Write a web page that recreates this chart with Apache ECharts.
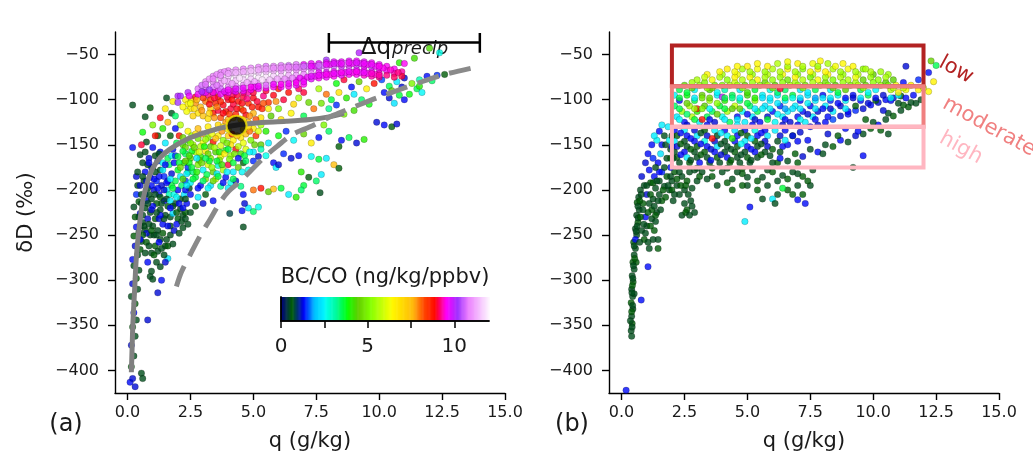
<!DOCTYPE html>
<html>
<head>
<meta charset="utf-8">
<script src="https://cdn.jsdelivr.net/npm/echarts@6/dist/echarts.min.js"></script>
<style>
  html, body { margin: 0; padding: 0; background: #fff; }
  #chart { width: 1033px; height: 458px; }
</style>
</head>
<body>
<div id="chart"></div>
<script>
// ---- Panel (a): q (g/kg), deltaD (permil), BC/CO (ng/kg/ppbv) ----
const aBranch = [
  [0.1,-413,1.3],[0.3,-418,1.2],[0.2,-409,1.2],[0.55,-403,0.5],[0.6,-409,0.5],[0.15,-396,0.6],[0.25,-384,0.5],
  [0.15,-372,1.2],[0.3,-362,0.5],[0.2,-352,0.6],[0.35,-344,0.5],[0.8,-344,1.2],[0.25,-336,1.3],[0.3,-326,0.6],
  [0.15,-318,0.5],[0.4,-310,0.5],[1.2,-314,1.2],[0.2,-304,1.2],[0.35,-298,0.6],[0.9,-296,0.5],[1.0,-299,0.5],
  [1.35,-300,1.3],[0.45,-289,0.5],[0.25,-284,0.5],[0.2,-277,1.3],[0.4,-272,0.5],[0.5,-266,0.6],[0.3,-262,1.2],
  [1.6,-276,2.3],[0.55,-257,0.5],[0.25,-251,0.6],[0.45,-247,0.5],[0.35,-241,1.3],[0.6,-236,0.5],[0.7,-244,0.5],
  [0.3,-230,0.6],[0.5,-226,1.2],[0.25,-219,0.5],[0.45,-213,0.6],[0.35,-205,1.4],[0.4,-195,0.5],[0.35,-185,1.2]
];
const aLowLeft = [
  [0.6,-228,0.5],[0.7,-220,0.5],[0.8,-232,1.2],[0.9,-225,0.5],[1.0,-240,0.5],[1.1,-232,0.6],[1.2,-245,0.5],
  [0.9,-250,0.5],[1.3,-255,0.5],[1.1,-262,0.6],[1.4,-238,1.3],[1.5,-228,0.5],[1.3,-222,0.5],[1.6,-218,0.6],
  [1.7,-230,0.5],[1.55,-255,0.5],[1.8,-226,2.2],[2.0,-232,0.6],[2.1,-221,0.5],[2.2,-228,0.5],[1.9,-215,0.5],
  [1.2,-268,0.5],[1.5,-280,1.2],[0.75,-212,1.3],[0.95,-210,0.5],[1.05,-200,1.2],[0.8,-198,0.5],[0.65,-190,0.5],
  [0.7,-180,1.3],[0.9,-186,1.3],[1.0,-175,0.6],[1.15,-190,1.4],[1.25,-205,1.3],[1.35,-195,1.2],[1.45,-185,1.4],
  [1.3,-178,0.5],[1.55,-200,2.4],[1.65,-205,3.0],[1.75,-195,3.6],[1.85,-205,2.6],[1.6,-190,1.3],[1.75,-182,1.2],
  [1.9,-190,3.5],[2.0,-200,1.3],[2.1,-210,0.5],[2.25,-205,2.3],[1.45,-212,1.3],[1.35,-215,0.5],[1.15,-215,0.6],
  [1.0,-218,1.3],[0.55,-205,0.5],[0.6,-170,0.5],[0.85,-165,1.2],[1.2,-168,1.3],[1.4,-170,2.5],[1.65,-172,3.4],
  [1.85,-170,1.3],[2.0,-178,3.7],[2.1,-185,2.4],[2.3,-190,1.5],[2.4,-180,3.5],[2.25,-170,4.0],[2.45,-198,0.5],
  [2.35,-215,1.3],[2.2,-242,0.5],[1.05,-250,0.5],[1.4,-248,0.6],[0.95,-270,0.5],[1.25,-232,1.2],[1.7,-240,0.5],
  [1.95,-238,1.3],[0.75,-258,0.6],[1.5,-262,0.5],[1.3,-285,0.5],
  [0.65,-240,0.5],[0.75,-248,1.2],[0.85,-238,0.5],[0.95,-245,0.6],[1.15,-250,0.5],[1.25,-258,1.3],[1.35,-265,0.5],
  [1.05,-272,0.6],[0.85,-262,0.5],[0.7,-270,0.5],[0.8,-280,1.3],[1.15,-280,0.5],[0.95,-290,0.5],[1.45,-272,0.5],
  [1.6,-262,0.6],[1.7,-250,0.5],[1.85,-245,1.2],[2.05,-248,0.5],[1.8,-260,0.5],[1.6,-240,1.3],[1.45,-232,0.5],
  [1.3,-228,1.3],[1.15,-225,0.5],[0.95,-222,1.2],[0.8,-215,0.5],[0.7,-205,1.3],[0.85,-205,0.5],[0.95,-195,1.3],
  [1.1,-205,0.5],[1.2,-198,1.3],[1.3,-208,0.6],[1.45,-200,1.2],[1.55,-210,0.5],[1.7,-212,2.4],[1.8,-218,0.5],
  [1.95,-225,0.6],[2.05,-215,1.3],[2.15,-235,0.5],[2.3,-225,0.6],[2.3,-232,0.5],[1.7,-220,1.3],[1.55,-192,1.3],
  [1.7,-188,2.4],[1.8,-198,3.6],[1.95,-208,2.5],[2.15,-195,3.4],[2.3,-200,1.3],[1.25,-185,1.3],[1.1,-180,0.5],
  [0.95,-175,1.3],[0.8,-172,0.5],[0.75,-190,1.2],[1.05,-188,1.3],[1.4,-178,2.4],[1.5,-172,1.3],[1.6,-165,3.5],
  [1.75,-162,2.5],[1.9,-162,1.4],[2.05,-170,3.6],[1.3,-158,1.3],[1.1,-162,0.5],[0.7,-158,0.5],[0.6,-185,0.5],
  [0.5,-195,1.2],[0.55,-215,0.5],[0.5,-240,0.5],[0.6,-250,0.6],[0.5,-255,1.3],[0.45,-230,0.5]
];
const aLeftScatter = [
  [0.2,-106,0.5],[0.7,-119,0.5],[0.9,-109,0.6],[1.3,-120,8.9],[1.0,-128,5.0],[1.55,-98,0.5],[1.8,-102,6.5],
  [2.0,-96,10.0],[0.2,-153,1.3],[0.6,-136,3.8],[0.75,-147,0.5],[0.5,-161,0.5],[1.0,-153,1.3],[1.2,-140,0.6],
  [1.4,-132,4.0],[1.6,-125,7.4],[1.75,-115,0.5],[1.5,-110,6.6],[1.9,-118,3.4],[2.1,-128,5.6],[1.25,-160,0.5],
  [1.5,-148,2.4],[0.85,-170,1.3],[0.4,-180,0.5],[0.55,-150,9.0],[1.1,-140,8.8],[1.7,-140,0.6],[1.9,-132,1.3]
];
const aMiddle = [
  [2.2,-150,4.2],[2.4,-145,3.8],[2.6,-150,5.5],[2.8,-143,4.8],[3.0,-148,6.3],[3.2,-142,5.0],[3.4,-147,8.8],
  [3.6,-140,6.5],[3.8,-145,5.2],[4.0,-140,7.2],[4.2,-145,6.4],[4.5,-142,6.8],[4.7,-138,7.5],[4.9,-145,5.0],
  [5.1,-140,8.5],[2.3,-160,3.4],[2.5,-165,4.5],[2.7,-158,5.4],[2.9,-163,4.0],[3.1,-157,6.6],[3.3,-165,5.0],
  [3.5,-158,4.3],[3.7,-163,6.2],[3.9,-156,3.9],[4.1,-162,5.3],[4.3,-155,8.9],[4.5,-160,4.2],[4.7,-155,6.0],
  [2.0,-163,3.6],[2.1,-175,4.6],[2.4,-175,1.4],[2.6,-180,3.3],[2.8,-172,5.0],[3.0,-178,2.5],[3.2,-172,6.0],
  [3.4,-180,4.5],[3.6,-173,2.8],[3.8,-178,5.5],[4.0,-172,9.0],[4.2,-180,2.4],[4.4,-175,4.5],[4.6,-170,0.6],
  [4.8,-178,2.6],[5.0,-168,1.4],[2.2,-188,4.3],[2.5,-192,2.5],[2.7,-186,3.6],[2.9,-195,1.3],[3.1,-188,4.8],
  [3.3,-195,2.3],[3.5,-188,5.8],[3.7,-196,3.2],[3.9,-186,1.3],[4.1,-192,2.6],[1.8,-155,1.3],[1.95,-148,3.5],
  [2.05,-140,8.8],[2.4,-135,6.4],[2.8,-132,7.5],[3.2,-130,6.6],[3.6,-128,7.0],[3.9,-125,7.8],[4.8,-125,7.5],
  [5.0,-132,6.6],[5.3,-128,5.5],[5.5,-135,4.0],[5.6,-148,2.4],[5.3,-155,3.0],[5.5,-162,2.6],[4.3,-190,1.2],
  [4.5,-196,3.3],[4.6,-205,1.3],[4.65,-215,1.2],[4.55,-223,1.3],[2.3,-153,4.6],[2.55,-157,3.7],[2.9,-152,5.6],
  [3.3,-152,4.4],[3.7,-151,5.9],[4.1,-150,6.8],[2.45,-170,3.8],[2.85,-167,4.3],[3.25,-168,3.6],[3.65,-167,4.9],
  [4.05,-166,5.0],[2.35,-182,2.4],[2.75,-180,4.0],[3.15,-183,3.5],[3.55,-182,2.4],[2.55,-140,5.3],
  [2.2,-142,4.6],[2.5,-148,5.0],[2.7,-138,6.8],[2.95,-138,7.6],[3.1,-144,5.4],[3.35,-138,6.2],[3.5,-143,7.4],
  [3.75,-135,7.8],[3.95,-148,4.8],[4.15,-138,8.6],[4.35,-140,7.6],[4.6,-148,6.2],[4.85,-135,8.0],[5.05,-150,4.5],
  [5.2,-135,6.0],[2.2,-157,3.6],[2.45,-162,4.2],[2.65,-153,4.6],[2.85,-158,6.0],[3.05,-152,3.8],[3.2,-160,4.6],
  [3.45,-153,5.4],[3.65,-158,4.0],[3.85,-160,6.6],[4.0,-155,3.5],[4.25,-160,4.8],[4.4,-152,5.6],[4.65,-162,3.6],
  [4.85,-158,2.5],[2.3,-168,4.4],[2.55,-175,3.6],[2.75,-165,2.4],[2.95,-170,4.6],[3.1,-165,3.5],[3.35,-175,5.2],
  [3.55,-168,3.6],[3.75,-172,4.2],[3.95,-180,2.4],[4.2,-170,3.6],[4.4,-165,1.3],[4.55,-180,2.5],[4.7,-168,3.4],
  [2.35,-195,2.4],[2.6,-188,3.6],[2.8,-198,1.3],[3.0,-190,3.4],[3.2,-198,2.5],[3.4,-190,4.6],[3.6,-185,3.6],
  [3.8,-192,1.3],[4.0,-198,2.4],[4.2,-188,3.5],[2.5,-205,1.3],[2.8,-208,2.4],[3.1,-205,0.6],[3.4,-212,1.3],
  [2.3,-210,0.5],[2.2,-220,1.3],[2.5,-225,0.5],[2.7,-218,0.6],[3.0,-215,1.2],[2.4,-238,0.5],
  [3.8,-130,6.8],[4.0,-133,6.4],[4.6,-133,6.6],[4.8,-130,7.0],[4.2,-120,7.2],[4.5,-122,6.8]
];
const aRedZone = [
  [2.3,-100,6.5],[2.4,-105,6.4],[2.5,-110,6.6],[2.35,-113,6.3],[2.55,-100,7.0],[2.1,-96,10.1],[2.4,-92,10.0],
  [2.7,-97,9.0],[2.0,-103,10.2],[2.7,-104,7.8],[2.9,-108,7.5],[3.1,-102,8.0],[3.3,-110,7.2],[3.5,-104,8.6],
  [2.8,-115,6.8],[3.0,-118,7.4],[3.2,-121,6.9],[3.4,-115,8.8],[3.6,-112,9.0],[3.8,-106,8.9],[4.0,-100,8.9],
  [4.2,-95,9.1],[3.9,-93,9.3],[3.6,-97,8.7],[4.4,-102,8.8],[4.6,-97,9.0],[4.8,-104,8.5],[4.1,-110,9.0],
  [4.3,-116,8.6],[4.5,-110,7.8],[4.7,-117,8.9],[3.7,-120,8.2],[4.0,-122,7.6],[5.0,-98,8.9],[5.2,-108,8.8],
  [5.4,-96,9.2],[5.0,-115,7.6],[5.3,-120,6.8],[5.6,-103,8.5],[5.8,-95,8.9],[6.0,-110,5.0],[6.2,-100,9.0],
  [6.4,-92,8.8],[6.6,-105,7.0],[6.8,-98,5.5],[6.5,-115,6.4],[7.0,-92,9.0],[7.2,-103,4.6],[7.4,-110,8.0],
  [7.0,-118,3.5],[5.7,-118,4.4],[6.1,-122,6.8],[3.2,-95,9.2],[3.4,-92,8.9],[4.8,-92,9.3],[5.5,-90,9.0],
  [6.0,-88,8.7],[6.8,-88,9.1],[3.9,-113,8.8],[4.2,-105,9.0],[4.6,-122,7.3],[3.3,-100,8.4],[2.6,-118,7.1],
  [3.0,-98,8.4],[3.25,-105,8.9],[3.45,-98,9.0],[3.7,-102,8.6],[3.95,-97,9.1],[4.15,-100,8.8],[4.35,-95,9.0],
  [4.55,-104,8.9],[4.75,-99,9.2],[4.95,-108,8.7],[5.15,-102,9.0],[5.35,-110,8.6],[3.55,-108,8.0],[3.8,-115,8.9],
  [4.05,-116,8.4],[4.35,-110,8.9],[4.6,-112,8.6],[4.85,-118,7.8],[5.1,-122,8.2],[3.45,-120,7.8],[3.25,-115,7.0],
  [2.95,-112,7.8],[2.65,-110,6.9],[2.5,-104,6.2],[2.75,-100,7.6],[2.2,-108,6.4],[2.45,-96,9.6],[4.2,-90,9.4],
  [4.6,-92,9.2],[5.0,-92,9.0],[3.6,-90,9.6],[3.0,-92,9.5],[5.4,-104,8.2],[5.6,-110,6.6],[5.9,-102,7.8]
];
const aUpperBand = [
  [2.8,-88,10.7],[2.8,-94,9.6],[3.1,-80,10.8],[3.1,-86,10.6],[3.1,-92,9.7],
  [3.4,-74,10.8],[3.4,-80,10.9],[3.4,-86,10.7],[3.4,-92,9.6],
  [3.7,-70,10.8],[3.7,-76,11.1],[3.7,-82,10.9],[3.7,-88,10.6],[3.7,-94,9.6],
  [4.0,-68,10.8],[4.0,-74,11.4],[4.0,-80,11.2],[4.0,-86,10.8],[4.0,-92,9.6],
  [4.3,-67,10.9],[4.3,-73,11.6],[4.3,-79,11.4],[4.3,-85,10.8],[4.3,-91,9.7],
  [4.6,-66,10.8],[4.6,-72,11.8],[4.6,-78,11.6],[4.6,-84,10.9],[4.6,-90,9.6],
  [4.9,-65,10.9],[4.9,-71,11.7],[4.9,-77,11.5],[4.9,-83,10.8],[4.9,-89,9.5],
  [5.2,-64,10.8],[5.2,-70,11.5],[5.2,-76,11.8],[5.2,-82,10.9],[5.2,-88,9.6],
  [5.5,-63,10.7],[5.5,-69,11.4],[5.5,-75,11.8],[5.5,-81,11.0],[5.5,-87,9.6],
  [5.8,-63,10.8],[5.8,-68,11.2],[5.8,-74,11.6],[5.8,-80,10.9],[5.8,-86,9.5],
  [6.1,-62,10.7],[6.1,-68,11.0],[6.1,-74,11.4],[6.1,-80,10.8],[6.1,-86,9.6],
  [6.4,-62,10.6],[6.4,-67,11.1],[6.4,-73,11.2],[6.4,-79,10.7],[6.4,-85,9.5],
  [6.7,-61,10.7],[6.7,-67,10.9],[6.7,-73,11.0],[6.7,-79,9.7],[6.7,-84,9.6],
  [7.0,-61,9.6],[7.0,-66,10.8],[7.0,-72,10.8],[7.0,-78,9.6],[7.0,-83,9.5],
  [7.3,-60,9.6],[7.3,-66,10.7],[7.3,-71,10.9],[7.3,-77,9.7],
  [7.6,-60,9.7],[7.6,-65,10.6],[7.6,-70,9.6],[7.6,-76,9.5],
  [7.9,-59,9.6],[7.9,-64,10.7],[7.9,-70,9.7],[7.9,-75,9.6],
  [8.2,-58,9.7],[8.2,-63,10.6],[8.2,-69,9.6],[8.2,-74,9.5],
  [8.5,-58,9.6],[8.5,-63,9.7],[8.5,-68,10.6],[8.5,-73,9.6],
  [8.8,-57,9.7],[8.8,-62,9.6],[8.8,-67,10.7],[8.8,-72,9.5],
  [9.1,-57,9.6],[9.1,-62,10.6],[9.1,-67,9.7],[9.1,-72,9.5],
  [9.4,-58,9.7],[9.4,-63,9.6],[9.4,-68,9.6],[9.4,-73,9.4],
  [9.7,-59,9.6],[9.7,-64,10.5],[9.7,-69,9.6],[9.7,-74,9.3],
  [10.0,-61,9.6],[10.0,-66,9.6],[10.0,-71,9.4],[10.0,-75,9.2],
  [10.3,-63,9.5],[10.3,-68,9.5],[10.3,-73,9.2],[10.6,-66,9.5],[10.6,-71,9.3],[10.6,-75,9.1],
  [10.9,-69,9.3],[10.9,-74,9.0],
  [3.25,-77,10.9],[3.25,-89,10.2],[3.55,-72,10.8],[3.55,-84,10.7],[3.85,-69,10.8],[3.85,-79,11.2],[3.85,-91,9.7],
  [4.15,-70,11.2],[4.15,-82,11.0],[4.45,-70,11.4],[4.45,-76,11.8],[4.45,-88,10.7],[4.75,-69,11.5],[4.75,-81,11.2],
  [5.05,-68,11.6],[5.05,-80,11.2],[5.05,-86,9.6],[5.35,-66,11.2],[5.35,-78,11.8],[5.65,-66,11.3],[5.65,-78,11.5],
  [5.95,-65,11.1],[5.95,-77,11.2],[6.25,-64,11.0],[6.25,-77,10.9],[6.55,-64,10.8],[6.55,-76,10.8],[6.85,-64,10.7],
  [6.85,-76,9.6],[7.15,-63,10.6],[7.15,-75,9.6],[7.45,-63,9.7],[7.45,-74,9.6],[7.75,-62,10.6],[7.75,-73,9.6],
  [8.05,-61,9.6],[8.05,-72,9.5],[8.35,-60,9.7],[8.35,-71,9.6],[8.65,-60,10.7],[8.65,-70,9.6],[8.95,-60,9.6],
  [8.95,-70,9.5],[9.25,-60,9.7],[9.25,-70,9.6],[9.55,-61,9.6],[9.55,-71,9.5],[9.85,-63,9.6],[9.85,-72,9.4],
  [10.15,-65,9.5],[10.45,-67,9.4],[10.75,-70,9.2],[2.95,-84,10.6],[2.95,-91,10.1],
  [3.1,-83,10.7],[3.4,-77,10.8],[3.7,-73,10.9],[4.0,-71,11.1],[4.3,-70,11.3],[4.6,-69,11.2],[4.9,-68,11.4],
  [5.2,-67,11.2],[5.5,-66,11.0],[5.8,-65,10.9],[6.1,-65,10.8],[6.4,-64,10.8],[6.7,-64,10.7],[7.0,-63,10.6],
  [7.3,-63,9.6],[7.6,-62,10.6],[7.9,-61,9.6],[8.2,-60,9.7],[8.5,-60,9.6],[8.8,-59,9.6],[9.1,-59,9.7],
  [9.4,-60,9.6],[9.7,-61,9.6],[10.0,-63,9.5],
  [4.0,-89,9.6],[4.3,-88,9.7],[4.6,-87,9.6],[4.9,-86,9.5],[5.2,-85,9.6],[5.5,-84,10.7],[5.8,-83,9.6],
  [6.1,-83,9.5],[6.4,-82,9.6],[6.7,-81,9.5],[7.0,-80,9.6],[7.3,-74,9.7],[7.6,-73,9.6],[7.9,-72,9.5],
  [8.2,-71,9.6],[8.5,-70,9.5],[8.8,-69,9.6],[9.1,-69,9.5],[9.4,-70,9.6],[9.7,-71,9.4],[10.0,-73,9.3]
];
const aRightScatter = [
  [7.9,-56,10.2],[9.2,-48,10.0],[10.8,-59,4.0],[11.4,-54,4.2],[12.0,-43,4.3],[12.4,-48,2.6],[11.0,-60,9.5],
  [8.3,-82,3.8],[8.6,-78,9.0],[8.9,-86,1.3],[9.2,-80,4.5],[9.5,-88,6.5],[9.8,-82,8.8],[10.1,-78,1.5],
  [10.4,-85,3.5],[10.7,-80,2.4],[11.0,-76,1.2],[11.3,-82,5.0],[11.6,-78,3.0],[11.9,-74,1.3],[12.3,-73,1.4],
  [12.6,-72,0.6],[7.6,-88,5.5],[7.9,-94,8.0],[8.1,-100,3.6],[8.4,-92,6.8],[8.7,-98,4.0],[9.0,-94,2.4],
  [9.3,-100,3.4],[7.7,-104,4.8],[8.0,-110,3.2],[8.3,-106,1.4],[10.2,-92,1.3],[10.4,-98,1.2],[10.6,-104,2.3],
  [10.8,-95,3.6],[11.0,-100,1.3],[10.5,-90,4.4],[11.5,-88,3.5],[11.7,-92,2.5],[11.6,-85,4.0],[9.6,-105,3.8],
  [9.0,-112,4.2],[8.6,-116,5.0],[9.9,-125,1.2],[10.2,-128,1.3],[10.5,-130,0.6],[10.7,-127,1.2],
  [8.5,-145,1.3],[8.8,-142,3.5],[9.1,-148,1.2],[9.4,-144,4.0],[8.4,-152,0.6],[7.3,-163,2.5],[7.6,-166,3.6],
  [7.9,-165,2.4],[8.2,-172,7.5],[8.4,-176,0.6],[6.9,-180,4.0],[7.2,-186,0.6],[7.5,-190,3.4],[7.7,-183,2.4],
  [7.0,-195,3.6],[7.65,-203,0.5],[5.8,-170,1.3],[5.9,-175,2.4],[6.0,-172,1.2],[6.2,-160,1.4],[6.5,-165,1.2],
  [6.8,-162,1.3],[5.0,-200,8.0],[5.3,-198,8.8],[5.6,-202,4.4],[5.8,-199,7.5],[4.8,-220,2.4],[5.0,-224,3.4],
  [5.2,-219,2.6],[6.1,-198,3.6],[6.4,-205,2.4],[6.7,-208,4.0],[6.9,-200,3.4],[4.6,-241,0.5],[4.06,-226,0.8],
  [5.0,-158,2.4],[5.2,-163,1.2],[5.3,-150,4.4],[6.0,-140,3.8],[6.3,-135,1.4],[6.6,-145,2.5],[7.0,-138,4.5],
  [7.3,-148,6.6],[7.6,-142,1.3],[8.0,-135,3.4],[7.8,-128,5.0],[10.9,-86,1.2],[11.2,-94,3.8],[12.1,-79,3.4]
];

// ---- Panel (b): same axes ----
const bBranch = [
  [0.4,-362,0.5],[0.38,-356,0.5],[0.42,-348,0.6],[0.4,-340,0.5],[0.45,-332,0.5],[0.38,-325,0.6],[0.44,-318,0.5],
  [0.4,-310,0.5],[0.46,-302,0.6],[0.42,-295,0.5],[0.5,-288,0.5],[0.45,-280,0.6],[0.78,-322,1.3],[1.05,-285,1.3],
  [0.5,-272,0.5],[0.55,-265,0.5],[0.48,-258,0.6],[0.6,-250,0.5],[0.55,-243,0.5],[0.65,-236,0.6],[0.6,-228,0.5],
  [0.7,-222,0.5],[0.62,-214,0.6],[0.68,-208,0.5],[0.75,-200,0.5],[0.18,-422,1.3],[0.55,-255,1.3],[0.8,-245,0.5],
  [0.9,-255,0.6],[1.0,-240,0.5],[1.1,-265,0.5],[0.95,-230,1.3],[1.2,-232,0.5],[1.3,-245,0.6],[1.4,-225,0.5],
  [1.1,-215,0.5],[0.85,-215,0.6],[1.0,-205,1.2],[1.25,-210,0.5],[1.45,-255,0.5],[1.45,-265,0.6],[1.2,-222,0.6],
  [0.9,-195,0.5],[1.15,-192,0.6],[1.35,-198,0.5],[1.5,-205,0.5],[1.6,-212,0.6],[1.3,-185,1.3],[1.5,-190,0.5],
  [1.7,-196,0.5],[1.8,-185,0.6],[1.6,-180,1.4],[1.9,-200,0.5],[2.0,-190,0.5],[2.1,-180,0.6],[2.2,-195,0.5],
  [1.45,-170,1.3],[1.55,-160,2.3],[1.6,-150,1.3],[1.4,-145,2.5],[1.7,-140,0.5],[1.5,-135,1.3],[1.8,-165,0.5],
  [1.25,-165,1.4],[1.1,-178,1.3],[0.8,-185,1.2],[1.85,-130,2.4],[2.0,-200,0.6],[2.3,-205,0.5],[2.5,-200,0.5],
  [2.6,-190,0.6],[2.8,-198,0.5],[2.4,-185,0.5],[2.7,-180,0.5],[2.5,-215,0.5],[2.6,-222,0.6],[2.8,-218,0.5],
  [2.4,-228,0.5],[2.9,-225,0.5],[0.35,-345,0.5],[0.5,-315,0.5],[0.58,-280,0.6],[0.72,-258,0.5],[0.88,-238,0.5],
  [1.05,-225,0.6],[1.35,-235,0.5],[1.55,-222,0.5],[1.75,-208,0.6],[2.05,-212,0.5],[2.35,-195,0.6],[1.95,-175,1.3],
  [0.42,-352,0.5],[0.4,-335,0.6],[0.44,-328,0.5],[0.41,-314,0.5],[0.43,-306,0.6],[0.45,-298,0.5],[0.47,-284,0.5],
  [0.52,-276,0.6],[0.5,-262,0.5],[0.58,-246,0.5],[0.62,-240,0.5],[0.66,-231,0.5],[0.65,-218,0.5],[0.72,-212,0.6],
  [0.78,-205,0.5],[0.85,-222,0.5],[0.75,-230,0.6],[0.95,-248,0.5],[1.15,-240,0.6],[1.25,-255,0.5],[1.05,-258,0.5],
  [1.35,-228,0.6],[1.3,-218,0.5],[1.15,-205,0.6],[1.45,-212,0.5],[1.0,-195,0.5],[1.25,-192,0.6],[1.4,-190,0.5],
  [1.65,-200,0.6],[1.85,-195,0.5],[2.1,-205,0.5],[2.2,-188,0.6],[1.95,-185,0.5],[1.7,-175,0.5],[1.5,-180,1.3],
  [1.35,-175,0.5],[2.3,-180,0.5],[2.55,-195,0.6],[2.65,-205,0.5],[2.75,-212,0.5],[2.55,-225,0.6],[2.7,-228,0.5],
  [1.2,-150,1.3],[1.3,-140,2.4],[1.05,-160,1.3],[0.95,-170,1.2],[1.6,-128,2.4],[1.75,-150,0.5],[1.9,-145,2.5],
  [1.95,-155,0.5],[1.95,-165,0.6]
];
const bBelow = [
  [3.2,-180,0.5],[3.6,-185,0.6],[4.0,-180,0.5],[4.4,-188,0.5],[4.8,-182,0.6],[5.2,-178,0.5],[5.6,-186,0.5],
  [6.0,-180,0.6],[6.4,-184,0.5],[6.8,-180,0.5],[7.2,-185,0.6],[7.6,-178,0.5],[5.0,-195,0.5],[5.4,-200,0.6],
  [5.8,-195,0.5],[6.2,-205,0.5],[6.6,-200,0.6],[7.0,-195,0.5],[7.2,-205,0.6],[6.0,-210,2.4],[6.4,-198,3.6],
  [6.1,-215,0.5],[5.1,-219,1.3],[4.9,-235,2.4],[7.0,-211,1.3],[4.4,-200,0.6],[3.8,-195,0.5],[7.5,-195,0.5],
  [3.0,-190,0.5],[3.4,-188,0.5],[4.2,-192,0.6],[4.6,-180,0.5],[5.0,-186,0.5],[5.4,-190,0.6],[5.8,-178,0.5],
  [6.2,-190,0.5],[6.6,-188,0.6],[7.0,-182,0.5],[7.4,-190,0.6],[5.6,-210,0.5],[6.8,-205,0.6],[7.3,-215,1.3],
  [3.1,-185,0.6],[2.9,-178,0.5],[4.8,-195,0.6]
];
const bHigh = [
  [2.1,-134,1.3],[2.5,-134,2.4],[2.9,-134,1.2],[3.3,-134,0.6],[3.7,-134,2.5],[4.1,-134,1.3],[4.5,-134,2.3],
  [4.9,-134,1.2],[5.3,-134,2.6],[5.7,-134,1.3],[6.1,-134,2.4],[6.5,-134,1.3],
  [2.2,-140,0.6],[2.6,-140,1.3],[3.0,-140,2.4],[3.4,-140,1.2],[3.8,-140,0.5],[4.2,-140,2.5],[4.6,-140,1.3],
  [5.0,-140,0.6],[5.4,-140,1.3],[5.8,-140,2.3],[6.3,-140,1.2],[6.8,-140,0.6],
  [2.1,-146,2.4],[2.5,-146,0.5],[2.9,-146,1.3],[3.3,-146,2.6],[3.7,-146,1.2],[4.1,-146,0.5],[4.5,-146,1.3],
  [4.9,-146,2.4],[5.3,-146,0.6],[5.7,-146,1.2],[6.2,-146,0.5],[7.0,-146,1.3],
  [2.2,-152,1.2],[2.6,-152,0.5],[3.0,-152,0.6],[3.4,-152,1.3],[3.8,-152,2.3],[4.2,-152,0.5],[4.6,-152,0.6],
  [5.0,-152,1.3],[5.4,-152,0.5],[5.8,-152,1.2],[6.4,-152,1.3],
  [2.1,-158,0.5],[2.5,-158,1.3],[2.9,-158,0.5],[3.3,-158,0.6],[3.7,-158,1.3],[4.1,-158,0.5],[4.5,-158,0.6],
  [4.9,-158,0.5],[5.3,-158,1.3],[5.7,-158,0.5],
  [2.2,-164,0.6],[2.6,-164,2.4],[3.0,-164,0.5],[3.4,-164,0.5],[3.8,-164,0.6],[4.2,-164,1.3],[4.6,-164,0.5],
  [5.0,-164,0.6],[5.4,-164,0.5],
  [2.3,-170,0.5],[2.7,-170,0.6],[3.1,-170,1.3],[3.5,-170,0.5],[3.9,-170,0.5],[4.3,-170,0.6],[4.7,-170,0.5],
  [5.1,-170,0.5],[3.0,-176,0.5],[3.6,-176,0.6],[4.2,-176,0.5],[4.8,-176,0.6],
  [2.35,-137,1.3],[3.15,-137,0.5],[3.95,-137,2.4],[4.75,-137,0.6],[5.55,-137,1.3],
  [2.35,-149,0.6],[3.15,-149,1.3],[3.95,-149,0.5],[4.75,-149,2.5],[5.55,-149,0.5],
  [2.35,-161,1.3],[3.15,-161,0.6],[3.95,-161,1.2],[4.75,-161,0.5],[5.55,-161,0.6],
  [3.6,-143,8.8],[4.4,-143,4.0],[2.75,-143,1.3],[5.15,-143,2.4],[2.75,-155,0.6],[3.55,-155,1.2],[4.35,-155,0.5],
  [5.15,-155,1.3],[2.75,-167,0.5],[3.55,-167,1.3],[4.35,-167,0.6],[5.15,-167,0.5],
  [2.05,-165,0.5],[2.0,-152,1.3],[2.0,-140,0.5],[6.0,-155,0.6],[6.3,-158,0.5],[6.6,-150,1.3],[5.9,-162,0.5],
  [6.2,-170,0.6]
];
const bHighRight = [
  [6.0,-170,0.5],[6.3,-165,1.3],[6.6,-168,0.5],[6.9,-160,0.6],[7.2,-163,1.2],[7.5,-155,0.5],[7.8,-158,1.3],
  [8.1,-150,0.5],[8.4,-152,0.6],[8.7,-145,1.3],[9.0,-147,0.5],[9.3,-140,1.2],[9.6,-138,0.5],[9.9,-132,0.6],
  [10.2,-128,1.3],[10.5,-122,0.5],[10.8,-118,0.6],[11.1,-112,0.5],[11.4,-108,0.6],[11.7,-104,0.5],[11.9,-100,0.5],
  [10.0,-125,0.5],[10.6,-115,0.5],[11.2,-106,0.6],[11.5,-103,0.5],[9.4,-135,1.3],[8.0,-160,0.5],[7.0,-170,0.6],
  [9.6,-162,1.3],[9.2,-175,0.5],[10.6,-138,0.5],[10.3,-134,0.6],
  [7.5,-130,1.3],[7.8,-128,1.2],[8.1,-125,1.3],[8.4,-122,1.5],[8.7,-118,1.2],[9.0,-116,1.3],[9.3,-112,1.4],
  [9.6,-110,1.2],[9.9,-106,1.3],[10.2,-103,1.2],[10.5,-100,1.3],[10.8,-98,1.2],[11.1,-96,0.6],[6.8,-140,1.3],
  [7.1,-136,1.2],[6.5,-145,2.4],[7.4,-145,1.3],[8.2,-138,1.2],[8.9,-132,1.3],[9.7,-122,0.6],[10.4,-112,1.2],
  [11.0,-104,0.5],[8.6,-140,0.6]
];
const bModerate = [
  [2.3,-89,3.5],[2.9,-89,2.5],[3.5,-89,4.2],[4.1,-89,3.0],[4.7,-89,2.4],[5.3,-89,3.6],[5.9,-89,2.6],[6.5,-89,3.4],
  [7.1,-89,2.4],[7.7,-89,3.5],[8.3,-89,2.5],[8.9,-89,4.4],[9.5,-89,3.4],[10.1,-89,2.5],[10.7,-89,5.6],[11.3,-89,6.2],
  [11.8,-89,6.5],
  [2.1,-95,2.5],[2.6,-95,3.8],[3.2,-95,4.5],[3.8,-95,2.4],[4.4,-95,3.5],[5.0,-95,4.2],[5.6,-95,2.5],[6.2,-95,2.4],
  [6.8,-95,3.6],[7.4,-95,2.3],[8.0,-95,1.3],[8.6,-95,2.5],[9.2,-95,1.3],[9.8,-95,3.5],[10.4,-95,1.2],[11.0,-95,2.4],
  [11.6,-95,1.3],
  [2.3,-101,1.3],[2.9,-101,3.6],[3.5,-101,5.4],[4.1,-101,4.0],[4.7,-101,3.4],[5.3,-101,5.2],[5.9,-101,2.4],
  [6.5,-101,2.5],[7.1,-101,1.3],[7.7,-101,2.4],[8.3,-101,1.4],[8.9,-101,2.5],[9.5,-101,1.3],[10.1,-101,0.6],
  [10.7,-101,1.3],
  [2.1,-107,3.4],[2.7,-107,5.5],[3.3,-107,4.4],[3.9,-107,3.6],[4.5,-107,5.8],[5.1,-107,3.4],[5.7,-107,2.3],
  [6.3,-107,1.4],[6.9,-107,2.4],[7.5,-107,1.3],[8.1,-107,2.4],[8.7,-107,1.2],[9.3,-107,0.6],
  [2.4,-113,5.3],[3.0,-113,4.0],[3.6,-113,3.5],[4.2,-113,5.5],[4.8,-113,2.5],[5.4,-113,3.5],[6.0,-113,1.3],
  [6.6,-113,2.4],[7.2,-113,1.3],[7.8,-113,1.2],[8.4,-113,2.4],[9.0,-113,1.3],
  [2.2,-119,2.4],[2.8,-119,5.6],[3.4,-119,3.5],[4.0,-119,2.6],[4.6,-119,1.3],[5.2,-119,2.4],[5.8,-119,1.2],
  [6.4,-119,2.5],[7.0,-119,1.3],[7.6,-119,2.4],[8.2,-119,1.3],
  [2.5,-125,1.3],[3.1,-125,2.4],[3.7,-125,1.2],[4.3,-125,3.5],[4.9,-125,2.4],[5.5,-125,1.3],[6.1,-125,2.5],
  [6.7,-125,1.2],[7.3,-125,2.4],
  [2.6,-92,3.6],[3.8,-92,2.5],[5.0,-92,4.2],[6.2,-92,3.4],[7.4,-92,2.4],[8.6,-92,3.6],[9.8,-92,2.5],[11.0,-92,6.6],
  [2.6,-104,4.5],[3.8,-104,5.2],[5.0,-104,3.6],[6.2,-104,2.4],[7.4,-104,2.5],[8.6,-104,1.3],[9.8,-104,1.2],
  [2.6,-116,3.4],[3.8,-116,4.4],[5.0,-116,1.3],[6.2,-116,2.4],[7.4,-116,1.2],[3.2,-122,8.8],[4.6,-122,2.4],
  [5.8,-122,3.6],[4.0,-97,10.0],[6.3,-88,9.0],[3.0,-110,8.8],[3.2,-98,4.8],[4.4,-98,3.3],[5.6,-98,2.3],
  [6.8,-98,2.6],[8.0,-98,2.4],[9.2,-98,1.2],[3.2,-110,5.0],[4.4,-110,4.4],[5.6,-110,2.4],[6.8,-110,2.3],
  [8.0,-110,1.3],[12.0,-87,5.8],[12.2,-91,6.4],
  [2.3,-98,3.6],[2.9,-98,2.4],[3.5,-98,4.6],[4.1,-98,3.5],[4.7,-98,2.5],[5.3,-98,4.0],[5.9,-98,2.4],[6.5,-98,3.5],
  [7.1,-98,2.4],[7.7,-98,1.8],[8.3,-98,2.5],[8.9,-98,1.3],[9.5,-98,2.4],[10.1,-98,1.3],[10.7,-98,2.5],[11.3,-98,1.3],
  [2.3,-110,3.5],[2.9,-110,5.4],[3.5,-110,2.5],[4.1,-110,3.6],[4.7,-110,4.5],[5.3,-110,2.4],[5.9,-110,2.5],
  [6.5,-110,1.8],[7.1,-110,2.4],[7.7,-110,2.3],[8.3,-110,1.2],[8.9,-110,2.4],
  [2.3,-122,2.5],[2.9,-122,3.6],[3.5,-122,1.3],[4.1,-122,2.4],[5.3,-122,1.2],[6.5,-122,1.3],[7.1,-122,2.5],
  [7.7,-122,1.3],[2.6,-128,1.2],[3.4,-128,1.3],[4.6,-128,2.4],[5.2,-128,1.3],[6.4,-128,1.2],[7.0,-128,1.3]
];
const bLow = [
  [2.5,-84,4.5],[3.1,-84,5.3],[3.7,-84,4.8],[4.3,-84,5.5],[4.9,-84,4.5],[5.5,-84,5.2],[6.1,-84,4.4],[6.7,-84,5.5],
  [7.3,-84,4.8],[7.9,-84,5.3],[8.5,-84,4.4],[9.1,-84,5.0],[9.7,-84,4.6],[10.3,-84,5.4],[10.9,-84,6.3],[11.5,-84,6.6],
  [3.0,-78,5.5],[3.6,-78,6.3],[4.2,-78,5.2],[4.8,-78,5.6],[5.4,-78,6.4],[6.0,-78,5.3],[6.6,-78,4.8],[7.2,-78,5.6],
  [7.8,-78,6.3],[8.4,-78,5.1],[9.0,-78,5.6],[9.6,-78,4.5],[10.2,-78,5.3],[10.8,-78,4.4],
  [3.4,-72,6.5],[4.0,-72,5.4],[4.6,-72,6.2],[5.2,-72,5.3],[5.8,-72,5.6],[6.4,-72,6.3],[7.0,-72,5.2],[7.6,-72,5.5],
  [8.2,-72,6.4],[8.8,-72,5.3],[9.4,-72,5.6],[10.0,-72,4.4],[10.6,-72,5.4],
  [4.2,-66,6.6],[4.8,-66,5.5],[5.4,-66,6.3],[6.0,-66,5.6],[6.6,-66,6.4],[7.2,-66,5.2],[7.8,-66,6.5],[8.4,-66,5.6],
  [9.0,-66,6.3],[9.6,-66,5.2],
  [5.4,-60,6.4],[6.2,-60,5.6],[7.0,-60,6.5],[7.6,-60,6.2],[8.2,-60,5.5],[8.8,-60,6.4],
  [3.3,-81,5.0],[4.5,-81,5.8],[5.7,-81,4.6],[6.9,-81,5.5],[8.1,-81,4.8],[9.3,-81,5.5],[10.5,-81,4.4],[11.2,-81,1.3],
  [3.9,-75,5.6],[5.1,-75,6.3],[6.3,-75,5.4],[7.5,-75,5.0],[8.7,-75,5.6],[9.9,-75,5.4],
  [3.9,-69,6.4],[5.1,-69,5.5],[6.3,-69,5.6],[7.5,-69,6.3],[8.7,-69,5.4],[9.9,-69,5.6],
  [5.0,-63,6.6],[6.6,-63,5.5],[7.8,-63,5.4],[9.2,-63,6.4],
  [12.3,-57,4.5],[12.5,-62,3.5],[12.2,-70,1.3],[12.4,-80,6.5],[11.3,-63,1.2],[11.8,-78,1.4],
  [2.8,-81,5.4],[3.6,-87,4.6],[4.8,-87,5.2],[6.0,-87,4.8],[7.2,-87,5.0],[8.4,-87,4.6],[9.6,-87,5.2],[10.8,-87,5.6],
  [2.8,-87,4.6],[3.4,-87,5.2],[4.0,-84,5.0],[4.6,-84,5.4],[5.2,-81,5.3],[5.8,-84,5.6],[6.4,-81,5.2],[7.0,-84,5.3],
  [7.6,-81,5.5],[8.2,-84,5.2],[8.8,-81,5.3],[9.4,-84,5.6],[10.0,-81,5.2],[10.6,-84,5.0],[11.2,-87,5.8],
  [3.3,-75,5.8],[4.5,-75,6.4],[5.7,-75,5.5],[6.9,-75,6.4],[8.1,-75,5.4],[9.3,-75,6.2],[10.5,-75,5.5],
  [4.5,-69,6.3],[5.7,-69,5.4],[6.9,-69,5.5],[8.1,-69,6.4],[9.3,-69,5.5],[10.3,-69,5.4],
  [4.6,-63,6.4],[5.8,-63,6.5],[7.2,-63,5.6],[8.5,-63,6.3],[9.7,-66,5.5],[6.6,-58,6.3],[7.9,-57,6.4]
];

// ---- Overlay curves and annotations (panel a) ----
const solidCurve = [
  [0.15,-402],[0.18,-375],[0.21,-348],[0.28,-311],[0.35,-274],[0.48,-237],[0.61,-211],[0.8,-190],[1.0,-176],
  [1.3,-164],[1.67,-155],[2.34,-144],[3.13,-136],[3.93,-130],[5.0,-126],[6.3,-124],[7.25,-122],[8.0,-119],[8.6,-115]
];
const dashedCurve = [
  [1.94,-307],[2.14,-291],[2.54,-269],[2.9,-250],[3.27,-233],[3.67,-214],[4.0,-202],[4.53,-189],[5.13,-172],
  [5.5,-162],[5.93,-152],[6.52,-139],[7.25,-130],[8.2,-117],[9.0,-108],[9.9,-98],[10.8,-89],[11.6,-81],
  [12.6,-72],[14.0,-63]
];
const centerPoint = [[4.33,-129]];
const precipSpan = [8, 14];      // q range of the bracket
const precipLevel = -36.5;       // deltaD of the bracket bar

// ---- Panel (b) regimes ----
const regimeNames = ['low', 'moderate', 'high'];
const regimeBounds = [[2, 12, -40, -85], [2, 12, -85, -130], [2, 12, -130, -175]];
const regimeColors = ['#b22222', '#f08080', '#ffb6c1'];

// ---- Ticks ----
const xTicks = [0, 2.5, 5, 7.5, 10, 12.5, 15];
const yTicks = [-400, -350, -300, -250, -200, -150, -100, -50];
const cbarTicks = [0, 2.5, 5, 7.5, 10];
const cbarLabels = [0, 5, 10];
const cbarMax = 12;

// gist_ncar colour map, piecewise-linear stops
const NCAR = {
  r: [[0,0],[0.3098,0],[0.3725,0.3993],[0.4235,0.5003],[0.5333,1],[0.7922,1],[0.8471,0.6218],[0.898,0.9235],[1,0.9961]],
  g: [[0,0],[0.051,0.3722],[0.1059,0],[0.1569,0.7202],[0.1608,0.7537],[0.1647,0.7752],[0.2157,1],[0.2588,0.9804],
      [0.2706,0.9804],[0.3176,1],[0.3686,0.8081],[0.4275,1],[0.5216,1],[0.6314,0.7292],[0.6863,0.2796],[0.7451,0],
      [0.7922,0],[0.8431,0.1753],[0.898,0.5],[1,0.9725]],
  b: [[0,0.502],[0.051,0.0222],[0.1098,1],[0.2039,1],[0.2627,0.6145],[0.3216,0],[0.4157,0],[0.4745,0.0342],
      [0.5294,0],[0.5804,0],[0.6314,0.0549],[0.6902,0],[0.7373,0],[0.7922,0.9725],[0.8,1],[0.8431,1],
      [0.898,0.9941],[1,0.9961]]
};
function chan(stops, t) {
  for (let i = 1; i < stops.length; i++) {
    if (t <= stops[i][0]) {
      const a = stops[i - 1], b = stops[i];
      const f = (t - a[0]) / (b[0] - a[0] || 1);
      return a[1] + f * (b[1] - a[1]);
    }
  }
  return stops[stops.length - 1][1];
}
function ncar(t) {
  t = Math.max(0, Math.min(1, t));
  const c = [chan(NCAR.r, t), chan(NCAR.g, t), chan(NCAR.b, t)].map(v => Math.round(v * 255));
  return 'rgb(' + c.join(',') + ')';
}
const rampColors = [];
for (let i = 0; i <= 240; i++) rampColors.push(ncar(i / 240));

const cbarSteps = [];
for (let v = 0; v < cbarMax; v += 0.05) cbarSteps.push([+v.toFixed(2)]);

const pointsA = [].concat(aBranch, aLowLeft, aLeftScatter, aRightScatter, aMiddle, aRedZone, aUpperBand);
const pointsB = [].concat(bBranch, bBelow, bHigh, bHighRight, bModerate, bLow);

const FONT = 'DejaVu Sans';
const INK = '#1a1a1a';
const minus = v => String(v).replace('-', '\u2212');

function mainX(gi) {
  return {
    type: 'value', gridIndex: gi, min: -0.5, max: 15,
    axisLine: { show: true, onZero: false, lineStyle: { color: '#000', width: 1.4 } },
    axisTick: { show: true, customValues: xTicks, length: 7, lineStyle: { color: '#000', width: 1.4 } },
    axisLabel: { customValues: xTicks, formatter: v => v.toFixed(1), fontSize: 16, fontFamily: FONT, color: INK, margin: 12 },
    splitLine: { show: false },
    name: 'q (g/kg)', nameLocation: 'middle', nameGap: 38,
    nameTextStyle: { fontSize: 21, fontFamily: FONT, color: INK }
  };
}
function mainY(gi, showName) {
  return {
    type: 'value', gridIndex: gi, min: -425, max: -25,
    axisLine: { show: true, onZero: false, lineStyle: { color: '#000', width: 1.4 } },
    axisTick: { show: true, customValues: yTicks, length: 7, lineStyle: { color: '#000', width: 1.4 } },
    axisLabel: { customValues: yTicks, formatter: minus, fontSize: 16, fontFamily: FONT, color: INK, margin: 16 },
    splitLine: { show: false },
    name: showName ? '\u03b4D (\u2030)' : '', nameLocation: 'middle', nameGap: 78,
    nameTextStyle: { fontSize: 21, fontFamily: FONT, color: INK }
  };
}

const scatterStyle = { borderColor: 'rgba(0,0,0,0.45)', borderWidth: 0.5 };

const option = {
  animation: false,
  backgroundColor: '#fff',
  grid: [
    { left: 115, top: 32, width: 390, height: 361 },
    { left: 609, top: 32, width: 390, height: 361 },
    { left: 281, top: 297, width: 208, height: 24 }
  ],
  xAxis: [
    mainX(0), mainX(1),
    { type: 'value', gridIndex: 2, min: 0, max: cbarMax, z: 10,
      axisLine: { show: true, lineStyle: { color: '#000', width: 1.5 } },
      axisTick: { show: true, customValues: cbarTicks, length: 7, lineStyle: { color: '#000', width: 1.5 } },
      axisLabel: { customValues: cbarLabels, fontSize: 20, fontFamily: FONT, color: INK, margin: 16 },
      splitLine: { show: false } },
    { type: 'value', gridIndex: 2, min: 0, max: cbarMax, position: 'top', z: 10,
      axisLine: { show: true, lineStyle: { color: '#000', width: 1.5 } },
      axisTick: { show: false }, axisLabel: { show: false }, splitLine: { show: false } }
  ],
  yAxis: [
    mainY(0, true), mainY(1, false),
    { type: 'value', gridIndex: 2, min: 0, max: 1, z: 10,
      axisLine: { show: true, lineStyle: { color: '#000', width: 1.5 } },
      axisTick: { show: false }, axisLabel: { show: false }, splitLine: { show: false } },
    { type: 'value', gridIndex: 2, min: 0, max: 1, position: 'right', z: 10,
      axisLine: { show: true, lineStyle: { color: '#000', width: 1.5 } },
      axisTick: { show: false }, axisLabel: { show: false }, splitLine: { show: false } }
  ],
  visualMap: {
    type: 'continuous', show: false, seriesIndex: [0, 1], dimension: 2,
    min: 0, max: cbarMax, inRange: { color: rampColors }
  },
  series: [
    { type: 'scatter', xAxisIndex: 0, yAxisIndex: 0, data: pointsA, symbolSize: 6.5, itemStyle: scatterStyle, z: 2 },
    { type: 'scatter', xAxisIndex: 1, yAxisIndex: 1, data: pointsB, symbolSize: 6.5, itemStyle: scatterStyle, z: 2 },
    { type: 'line', xAxisIndex: 0, yAxisIndex: 0, data: solidCurve, symbol: 'none', smooth: 0.3, z: 3,
      lineStyle: { color: '#808080', width: 5 } },
    { type: 'line', xAxisIndex: 0, yAxisIndex: 0, data: dashedCurve, symbol: 'none', smooth: 0.3, z: 3,
      lineStyle: { color: '#8a8a8a', width: 5, type: [22, 11], cap: 'butt' } },
    { type: 'scatter', xAxisIndex: 0, yAxisIndex: 0, data: centerPoint, symbolSize: 20, z: 4,
      itemStyle: { color: '#000', borderColor: '#f2e200', borderWidth: 2 } },
    { type: 'line', xAxisIndex: 0, yAxisIndex: 0, symbol: 'none', z: 4,
      data: [[precipSpan[0], -26], [precipSpan[0], -48], [precipSpan[0], precipLevel], [precipSpan[1], precipLevel],
             [precipSpan[1], -26], [precipSpan[1], -48]],
      lineStyle: { color: '#000', width: 2.5 } },
    { type: 'custom', xAxisIndex: 1, yAxisIndex: 1, z: 5, data: regimeBounds,
      renderItem: function (params, api) {
        const p0 = api.coord([api.value(0), api.value(2)]);
        const p1 = api.coord([api.value(1), api.value(3)]);
        return { type: 'rect', shape: { x: p0[0], y: p0[1], width: p1[0] - p0[0], height: p1[1] - p0[1] },
                 style: { fill: 'none', stroke: regimeColors[params.dataIndex], lineWidth: 4 } };
      } },
    { type: 'custom', xAxisIndex: 2, yAxisIndex: 2, z: 2, data: cbarSteps,
      renderItem: function (params, api) {
        const v = api.value(0);
        const p0 = api.coord([v, 1]);
        const p1 = api.coord([Math.min(v + 0.05, cbarMax), 0]);
        return { type: 'rect', shape: { x: p0[0], y: p0[1], width: p1[0] - p0[0] + 0.6, height: p1[1] - p0[1] },
                 style: { fill: ncar(v / cbarMax) } };
      } }
  ],
  graphic: [
    { type: 'text', x: 66, y: 425, style: { text: '(a)', fontSize: 24, fontFamily: FONT, fill: INK, align: 'center', verticalAlign: 'middle' } },
    { type: 'text', x: 572, y: 425, style: { text: '(b)', fontSize: 24, fontFamily: FONT, fill: INK, align: 'center', verticalAlign: 'middle' } },
    { type: 'text', x: 385, y: 278, style: { text: 'BC/CO (ng/kg/ppbv)', fontSize: 21, fontFamily: FONT, fill: INK, align: 'center', verticalAlign: 'middle' } },
    { type: 'text', x: 391, y: 37, style: { text: '\u0394q', fontSize: 23, fontFamily: FONT, fill: INK, align: 'right', verticalAlign: 'alphabetic' } },
    { type: 'text', x: 392, y: 40, style: { text: 'precip', fontSize: 18, fontStyle: 'italic', fontFamily: FONT, fill: INK, align: 'left', verticalAlign: 'alphabetic' } },
    { type: 'text', x: 956, y: 70, rotation: -0.5, style: { text: regimeNames[0], fontSize: 21, fontFamily: FONT, fill: regimeColors[0], align: 'center', verticalAlign: 'middle' } },
    { type: 'text', x: 989, y: 127, rotation: -0.5, style: { text: regimeNames[1], fontSize: 21, fontFamily: FONT, fill: regimeColors[1], align: 'center', verticalAlign: 'middle' } },
    { type: 'text', x: 961, y: 148, rotation: -0.5, style: { text: regimeNames[2], fontSize: 21, fontFamily: FONT, fill: regimeColors[2], align: 'center', verticalAlign: 'middle' } }
  ]
};

const chart = echarts.init(document.getElementById('chart'), null, { renderer: 'canvas' });
chart.setOption(option);
</script>
</body>
</html>
